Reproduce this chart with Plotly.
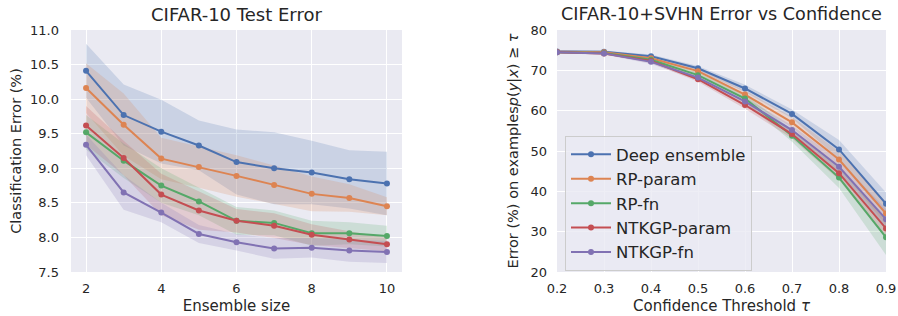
import plotly.graph_objects as go

# ---------------- data ----------------
ensemble_sizes = [2, 3, 4, 5, 6, 7, 8, 9, 10]
methods = ["Deep ensemble", "RP-param", "RP-fn", "NTKGP-param", "NTKGP-fn"]
colors = ["#4C72B0", "#DD8452", "#55A868", "#C44E52", "#8172B3"]

test_err_deep = [10.41, 9.77, 9.53, 9.33, 9.09, 9.00, 8.94, 8.84, 8.78]
test_err_rp_param = [10.16, 9.63, 9.14, 9.02, 8.89, 8.76, 8.63, 8.57, 8.45]
test_err_rp_fn = [9.52, 9.11, 8.75, 8.52, 8.24, 8.21, 8.06, 8.06, 8.02]
test_err_ntk_param = [9.62, 9.15, 8.62, 8.39, 8.24, 8.17, 8.04, 7.97, 7.90]
test_err_ntk_fn = [9.34, 8.65, 8.36, 8.05, 7.93, 7.84, 7.85, 7.81, 7.79]

test_std_deep = [0.39, 0.44, 0.46, 0.36, 0.47, 0.52, 0.46, 0.42, 0.46]
test_std_rp_param = [0.36, 0.45, 0.30, 0.30, 0.30, 0.28, 0.25, 0.20, 0.13]
test_std_rp_fn = [0.25, 0.25, 0.25, 0.20, 0.20, 0.18, 0.18, 0.16, 0.15]
test_std_ntk_param = [0.28, 0.25, 0.30, 0.28, 0.17, 0.18, 0.15, 0.12, 0.10]
test_std_ntk_fn = [0.15, 0.25, 0.14, 0.13, 0.12, 0.15, 0.14, 0.16, 0.16]

thresholds = [0.2, 0.3, 0.4, 0.5, 0.6, 0.7, 0.8, 0.9]
conf_err_deep = [74.7, 74.6, 73.5, 70.5, 65.5, 59.2, 50.4, 36.9]
conf_err_rp_param = [74.6, 74.5, 73.0, 69.8, 64.0, 57.1, 47.9, 34.5]
conf_err_rp_fn = [74.5, 74.3, 72.6, 68.8, 63.0, 53.8, 43.4, 28.6]
conf_err_ntk_param = [74.5, 74.2, 72.3, 67.8, 61.4, 54.2, 44.5, 30.8]
conf_err_ntk_fn = [74.5, 74.2, 72.1, 68.2, 62.3, 55.2, 46.1, 33.1]

conf_std_deep = [0.3, 0.3, 0.4, 0.6, 0.9, 1.1, 2.3, 2.8]
conf_std_rp_param = [0.3, 0.3, 0.5, 0.7, 1.0, 1.3, 2.0, 2.8]
conf_std_rp_fn = [0.3, 0.3, 0.5, 0.7, 1.0, 1.5, 2.6, 4.4]
conf_std_ntk_param = [0.3, 0.3, 0.5, 0.6, 0.9, 1.1, 1.6, 2.5]
conf_std_ntk_fn = [0.3, 0.3, 0.5, 0.6, 0.9, 1.1, 1.6, 2.5]

left_ticks = [2, 4, 6, 8, 10]
left_yticks = [7.5, 8.0, 8.5, 9.0, 9.5, 10.0, 10.5, 11.0]
right_xticks = [0.2, 0.3, 0.4, 0.5, 0.6, 0.7, 0.8, 0.9]
right_yticks = [20, 30, 40, 50, 60, 70, 80]

test_means = [test_err_deep, test_err_rp_param, test_err_rp_fn, test_err_ntk_param, test_err_ntk_fn]
test_stds = [test_std_deep, test_std_rp_param, test_std_rp_fn, test_std_ntk_param, test_std_ntk_fn]
conf_means = [conf_err_deep, conf_err_rp_param, conf_err_rp_fn, conf_err_ntk_param, conf_err_ntk_fn]
conf_stds = [conf_std_deep, conf_std_rp_param, conf_std_rp_fn, conf_std_ntk_param, conf_std_ntk_fn]


def rgba(hexc, a):
    h = hexc.lstrip("#")
    r, g, b = int(h[0:2], 16), int(h[2:4], 16), int(h[4:6], 16)
    return f"rgba({r},{g},{b},{a})"


fig = go.Figure()

# bands first
for xs, means, stds, xa, ya in [
    (ensemble_sizes, test_means, test_stds, "x", "y"),
    (thresholds, conf_means, conf_stds, "x2", "y2"),
]:
    for m, s, c in zip(means, stds, colors):
        up = [a + b for a, b in zip(m, s)]
        lo = [a - b for a, b in zip(m, s)]
        fig.add_trace(go.Scatter(
            x=list(xs) + list(xs)[::-1], y=up + lo[::-1],
            fill="toself", fillcolor=rgba(c, 0.2), line=dict(width=0),
            mode="lines", showlegend=False, hoverinfo="skip", xaxis=xa, yaxis=ya))

for xs, means, xa, ya, show in [
    (ensemble_sizes, test_means, "x", "y", False),
    (thresholds, conf_means, "x2", "y2", True),
]:
    for name, m, c in zip(methods, means, colors):
        fig.add_trace(go.Scatter(
            x=xs, y=m, name=name, mode="lines+markers",
            line=dict(color=c, width=2), marker=dict(color=c, size=6),
            showlegend=show, xaxis=xa, yaxis=ya))

W, H = 898, 316
T, B = 30, 44
PH = H - T - B
text_color = "#262626"
axis_common = dict(
    showgrid=True, gridcolor="white", gridwidth=1.2, zeroline=False,
    showline=False, ticks="", tickfont=dict(size=13, color=text_color),
    automargin=False,
)


def py(ypx):
    return (H - B - ypx) / PH


fig.update_layout(
    width=W, height=H,
    margin=dict(l=0, r=0, t=T, b=B),
    paper_bgcolor="white", plot_bgcolor="#EAEAF2",
    font=dict(family="DejaVu Sans", color=text_color),
    xaxis=dict(domain=[71 / W, 402 / W], range=[1.6, 10.4], tickvals=left_ticks,
               ticklabelstandoff=7,
               title=dict(text="Ensemble size", font=dict(size=15), standoff=5),
               anchor="y", **axis_common),
    yaxis=dict(range=[7.5, 11.0], tickvals=left_yticks, tickformat=".1f",
               ticklabelstandoff=11,
               title=dict(text="Classification Error (%)", font=dict(size=14.5), standoff=4),
               anchor="x", **axis_common),
    xaxis2=dict(domain=[557 / W, 886 / W], range=[0.2, 0.9], tickvals=right_xticks,
                tickformat=".1f", ticklabelstandoff=7,
                title=dict(text="Confidence Threshold <i>τ</i>", font=dict(size=15), standoff=5),
                anchor="y2", **axis_common),
    yaxis2=dict(range=[20, 80], tickvals=right_yticks, ticklabelstandoff=9,
                title=dict(text="Error (%) on examples<i>p</i>(<i>y</i>|<i>x</i>) ≥ <i>τ</i>",
                           font=dict(size=14.5), standoff=8),
                anchor="x2", **axis_common),
    legend=dict(x=565 / W, y=py(136), xanchor="left", yanchor="top",
                bgcolor="rgba(234,234,242,0.8)", bordercolor="#cccccc", borderwidth=1,
                font=dict(size=16.5, color=text_color), itemwidth=40,
                tracegroupgap=0),
    annotations=[
        dict(text="CIFAR-10 Test Error", x=(71 + 402) / 2 / W, y=py(14),
             xref="paper", yref="paper", showarrow=False, xanchor="center",
             yanchor="middle", font=dict(size=18, color=text_color)),
        dict(text="CIFAR-10+SVHN Error vs Confidence", x=(557 + 886) / 2 / W, y=py(14),
             xref="paper", yref="paper", showarrow=False, xanchor="center",
             yanchor="middle", font=dict(size=17.6, color=text_color)),
    ],
)

fig.write_html("out.html", config={"displayModeBar": False},
               post_script="document.body.style.margin='0';")
